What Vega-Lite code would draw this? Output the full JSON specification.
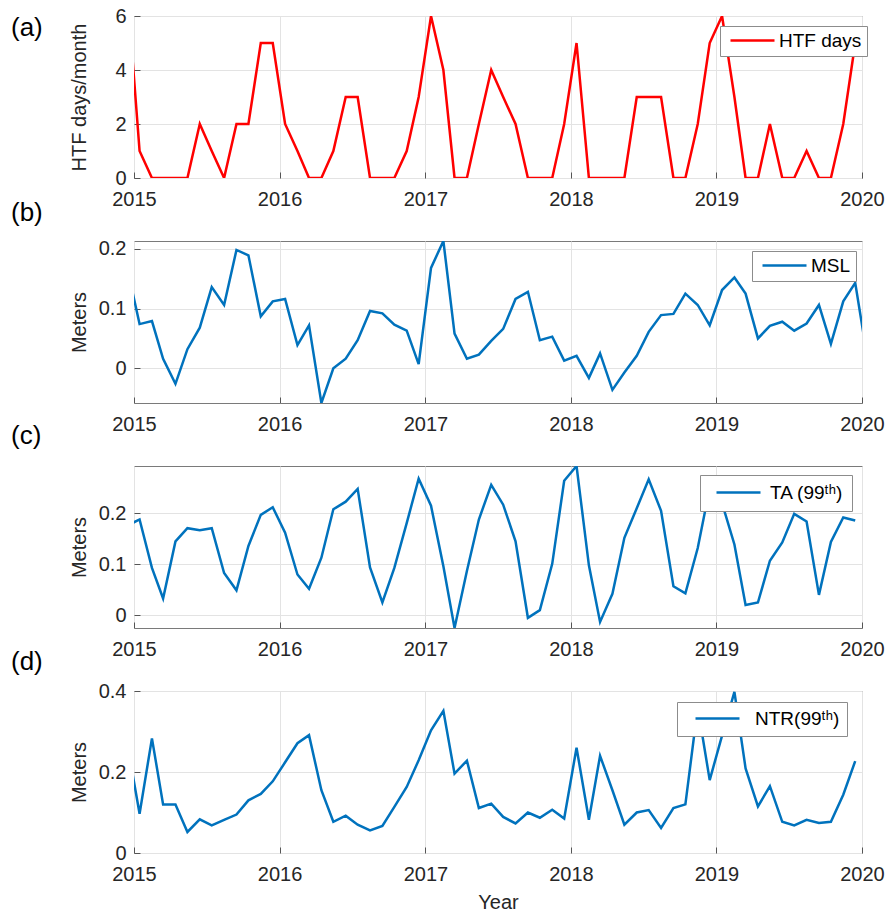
{
  "$schema": "https://vega.github.io/schema/vega-lite/v6.json",
  "background": "white",
  "padding": {"left": 10, "top": 5, "right": 5, "bottom": 5},
  "autosize": {"type": "pad"},
  "datasets": {
    "d": [
      {"date": "2014-12-15", "htf": 7, "msl": 0.168, "ta": 0.176, "ntr": 0.271},
      {"date": "2015-01-15", "htf": 1, "msl": 0.074, "ta": 0.188, "ntr": 0.097},
      {"date": "2015-02-15", "htf": 0, "msl": 0.079, "ta": 0.093, "ntr": 0.283},
      {"date": "2015-03-15", "htf": 0, "msl": 0.016, "ta": 0.033, "ntr": 0.120},
      {"date": "2015-04-15", "htf": 0, "msl": -0.026, "ta": 0.145, "ntr": 0.120},
      {"date": "2015-05-15", "htf": 0, "msl": 0.032, "ta": 0.171, "ntr": 0.052},
      {"date": "2015-06-15", "htf": 2, "msl": 0.068, "ta": 0.167, "ntr": 0.083},
      {"date": "2015-07-15", "htf": 1, "msl": 0.136, "ta": 0.171, "ntr": 0.068},
      {"date": "2015-08-15", "htf": 0, "msl": 0.106, "ta": 0.083, "ntr": 0.082},
      {"date": "2015-09-15", "htf": 2, "msl": 0.198, "ta": 0.049, "ntr": 0.095},
      {"date": "2015-10-15", "htf": 2, "msl": 0.189, "ta": 0.136, "ntr": 0.130},
      {"date": "2015-11-15", "htf": 5, "msl": 0.087, "ta": 0.197, "ntr": 0.146},
      {"date": "2015-12-15", "htf": 5, "msl": 0.112, "ta": 0.212, "ntr": 0.177},
      {"date": "2016-01-15", "htf": 2, "msl": 0.116, "ta": 0.162, "ntr": 0.224},
      {"date": "2016-02-15", "htf": 1, "msl": 0.039, "ta": 0.080, "ntr": 0.271},
      {"date": "2016-03-15", "htf": 0, "msl": 0.072, "ta": 0.052, "ntr": 0.291},
      {"date": "2016-04-15", "htf": 0, "msl": -0.058, "ta": 0.113, "ntr": 0.155},
      {"date": "2016-05-15", "htf": 1, "msl": 0.000, "ta": 0.208, "ntr": 0.077},
      {"date": "2016-06-15", "htf": 3, "msl": 0.016, "ta": 0.223, "ntr": 0.092},
      {"date": "2016-07-15", "htf": 3, "msl": 0.047, "ta": 0.248, "ntr": 0.070},
      {"date": "2016-08-15", "htf": 0, "msl": 0.096, "ta": 0.094, "ntr": 0.056},
      {"date": "2016-09-15", "htf": 0, "msl": 0.092, "ta": 0.025, "ntr": 0.067},
      {"date": "2016-10-15", "htf": 0, "msl": 0.073, "ta": 0.093, "ntr": 0.114},
      {"date": "2016-11-15", "htf": 1, "msl": 0.063, "ta": 0.181, "ntr": 0.163},
      {"date": "2016-12-15", "htf": 3, "msl": 0.007, "ta": 0.268, "ntr": 0.229},
      {"date": "2017-01-15", "htf": 6, "msl": 0.168, "ta": 0.215, "ntr": 0.303},
      {"date": "2017-02-15", "htf": 4, "msl": 0.213, "ta": 0.096, "ntr": 0.351},
      {"date": "2017-03-15", "htf": 0, "msl": 0.058, "ta": -0.025, "ntr": 0.196},
      {"date": "2017-04-15", "htf": 0, "msl": 0.016, "ta": 0.087, "ntr": 0.228},
      {"date": "2017-05-15", "htf": 2, "msl": 0.023, "ta": 0.188, "ntr": 0.111},
      {"date": "2017-06-15", "htf": 4, "msl": 0.046, "ta": 0.256, "ntr": 0.122},
      {"date": "2017-07-15", "htf": 3, "msl": 0.066, "ta": 0.217, "ntr": 0.089},
      {"date": "2017-08-15", "htf": 2, "msl": 0.116, "ta": 0.145, "ntr": 0.073},
      {"date": "2017-09-15", "htf": 0, "msl": 0.128, "ta": -0.005, "ntr": 0.100},
      {"date": "2017-10-15", "htf": 0, "msl": 0.047, "ta": 0.010, "ntr": 0.087},
      {"date": "2017-11-15", "htf": 0, "msl": 0.053, "ta": 0.101, "ntr": 0.107},
      {"date": "2017-12-15", "htf": 2, "msl": 0.013, "ta": 0.264, "ntr": 0.085},
      {"date": "2018-01-15", "htf": 5, "msl": 0.021, "ta": 0.293, "ntr": 0.260},
      {"date": "2018-02-15", "htf": 0, "msl": -0.016, "ta": 0.098, "ntr": 0.082},
      {"date": "2018-03-15", "htf": 0, "msl": 0.025, "ta": -0.013, "ntr": 0.240},
      {"date": "2018-04-15", "htf": 0, "msl": -0.036, "ta": 0.042, "ntr": 0.155},
      {"date": "2018-05-15", "htf": 0, "msl": -0.007, "ta": 0.152, "ntr": 0.070},
      {"date": "2018-06-15", "htf": 3, "msl": 0.021, "ta": 0.210, "ntr": 0.100},
      {"date": "2018-07-15", "htf": 3, "msl": 0.061, "ta": 0.267, "ntr": 0.106},
      {"date": "2018-08-15", "htf": 3, "msl": 0.089, "ta": 0.205, "ntr": 0.062},
      {"date": "2018-09-15", "htf": 0, "msl": 0.091, "ta": 0.057, "ntr": 0.111},
      {"date": "2018-10-15", "htf": 0, "msl": 0.125, "ta": 0.043, "ntr": 0.120},
      {"date": "2018-11-15", "htf": 2, "msl": 0.106, "ta": 0.132, "ntr": 0.360},
      {"date": "2018-12-15", "htf": 5, "msl": 0.072, "ta": 0.250, "ntr": 0.180},
      {"date": "2019-01-15", "htf": 6, "msl": 0.131, "ta": 0.220, "ntr": 0.290},
      {"date": "2019-02-15", "htf": 3, "msl": 0.152, "ta": 0.139, "ntr": 0.398},
      {"date": "2019-03-15", "htf": 0, "msl": 0.125, "ta": 0.020, "ntr": 0.209},
      {"date": "2019-04-15", "htf": 0, "msl": 0.050, "ta": 0.025, "ntr": 0.115},
      {"date": "2019-05-15", "htf": 2, "msl": 0.071, "ta": 0.107, "ntr": 0.165},
      {"date": "2019-06-15", "htf": 0, "msl": 0.078, "ta": 0.143, "ntr": 0.077},
      {"date": "2019-07-15", "htf": 0, "msl": 0.063, "ta": 0.199, "ntr": 0.068},
      {"date": "2019-08-15", "htf": 1, "msl": 0.075, "ta": 0.184, "ntr": 0.082},
      {"date": "2019-09-15", "htf": 0, "msl": 0.106, "ta": 0.040, "ntr": 0.074},
      {"date": "2019-10-15", "htf": 0, "msl": 0.041, "ta": 0.144, "ntr": 0.077},
      {"date": "2019-11-15", "htf": 2, "msl": 0.112, "ta": 0.192, "ntr": 0.144},
      {"date": "2019-12-15", "htf": 5, "msl": 0.143, "ta": 0.186, "ntr": 0.227},
      {"date": "2020-01-15", "msl": 0.015}
    ]
  },
  "data": {"name": "d"},
  "bounds": "flush",
  "spacing": 63,
  "resolve": {
    "scale": {"x": "independent", "y": "independent", "color": "independent"},
    "axis": {"x": "independent", "y": "independent"},
    "legend": {"color": "independent"}
  },
  "vconcat": [
    {
      "width": 728, "height": 162,
      "title": {"text": "(a)", "anchor": "start", "frame": "group", "orient": "top", "dx": -123, "dy": 35, "offset": 0, "fontSize": 26, "fontWeight": "normal", "color": "#000000"},
      "mark": {"type": "line", "clip": true, "strokeWidth": 2.5},
      "encoding": {
        "x": {"field": "date", "type": "temporal",
          "scale": {"type": "utc", "domain": [{"year": 2015, "month": 1, "date": 1, "utc": true}, {"year": 2020, "month": 1, "date": 1, "utc": true}]},
          "axis": {"title": null, "format": "%Y", "formatType": "utc",
            "values": [{"year": 2015, "month": 1, "date": 1, "utc": true}, {"year": 2016, "month": 1, "date": 1, "utc": true}, {"year": 2017, "month": 1, "date": 1, "utc": true}, {"year": 2018, "month": 1, "date": 1, "utc": true}, {"year": 2019, "month": 1, "date": 1, "utc": true}, {"year": 2020, "month": 1, "date": 1, "utc": true}]}},
        "y": {"field": "htf", "type": "quantitative", "scale": {"domain": [0, 6], "nice": false, "zero": false},
          "axis": {"values": [0, 2, 4, 6], "title": "HTF days/month", "titleX": -45, "titleY": 81}},
        "color": {"datum": "HTF days", "type": "nominal", "scale": {"range": ["#ff0000"]},
          "legend": {"orient": "none", "legendX": 586, "legendY": 10, "padding": 5, "symbolOffset": 1, "labelOffset": 34}}
      }
    },
    {
      "width": 728, "height": 162,
      "title": {"text": "(b)", "anchor": "start", "frame": "group", "orient": "top", "dx": -123, "dy": -13, "offset": 0, "fontSize": 26, "fontWeight": "normal", "color": "#000000"},
      "mark": {"type": "line", "clip": true, "strokeWidth": 2.5},
      "encoding": {
        "x": {"field": "date", "type": "temporal",
          "scale": {"type": "utc", "domain": [{"year": 2015, "month": 1, "date": 1, "utc": true}, {"year": 2020, "month": 1, "date": 1, "utc": true}]},
          "axis": {"title": null, "format": "%Y", "formatType": "utc",
            "values": [{"year": 2015, "month": 1, "date": 1, "utc": true}, {"year": 2016, "month": 1, "date": 1, "utc": true}, {"year": 2017, "month": 1, "date": 1, "utc": true}, {"year": 2018, "month": 1, "date": 1, "utc": true}, {"year": 2019, "month": 1, "date": 1, "utc": true}, {"year": 2020, "month": 1, "date": 1, "utc": true}]}},
        "y": {"field": "msl", "type": "quantitative", "scale": {"domain": [-0.058, 0.213], "nice": false, "zero": false},
          "axis": {"values": [0, 0.1, 0.2], "format": "~g", "title": "Meters", "titleX": -45, "titleY": 81}},
        "color": {"datum": "MSL", "type": "nominal", "scale": {"range": ["#0072bd"]},
          "legend": {"orient": "none", "legendX": 618, "legendY": 10, "padding": 5, "symbolOffset": 1, "labelOffset": 34}}
      }
    },
    {
      "width": 728, "height": 162,
      "title": {"text": "(c)", "anchor": "start", "frame": "group", "orient": "top", "dx": -123, "dy": -17, "offset": 0, "fontSize": 26, "fontWeight": "normal", "color": "#000000"},
      "mark": {"type": "line", "clip": true, "strokeWidth": 2.5},
      "encoding": {
        "x": {"field": "date", "type": "temporal",
          "scale": {"type": "utc", "domain": [{"year": 2015, "month": 1, "date": 1, "utc": true}, {"year": 2020, "month": 1, "date": 1, "utc": true}]},
          "axis": {"title": null, "format": "%Y", "formatType": "utc",
            "values": [{"year": 2015, "month": 1, "date": 1, "utc": true}, {"year": 2016, "month": 1, "date": 1, "utc": true}, {"year": 2017, "month": 1, "date": 1, "utc": true}, {"year": 2018, "month": 1, "date": 1, "utc": true}, {"year": 2019, "month": 1, "date": 1, "utc": true}, {"year": 2020, "month": 1, "date": 1, "utc": true}]}},
        "y": {"field": "ta", "type": "quantitative", "scale": {"domain": [-0.025, 0.293], "nice": false, "zero": false},
          "axis": {"values": [0, 0.1, 0.2], "format": "~g", "title": "Meters", "titleX": -45, "titleY": 81}},
        "color": {"datum": "TA (99ᵗʰ)", "type": "nominal", "scale": {"range": ["#0072bd"]},
          "legend": {"orient": "none", "legendX": 566, "legendY": 9, "padding": 8, "symbolOffset": 4, "labelOffset": 39}}
      }
    },
    {
      "width": 728, "height": 162,
      "title": {"text": "(d)", "anchor": "start", "frame": "group", "orient": "top", "dx": -123, "dy": -6, "offset": 0, "fontSize": 26, "fontWeight": "normal", "color": "#000000"},
      "mark": {"type": "line", "clip": true, "strokeWidth": 2.5},
      "encoding": {
        "x": {"field": "date", "type": "temporal",
          "scale": {"type": "utc", "domain": [{"year": 2015, "month": 1, "date": 1, "utc": true}, {"year": 2020, "month": 1, "date": 1, "utc": true}]},
          "axis": {"title": "Year", "titlePadding": 8, "format": "%Y", "formatType": "utc",
            "values": [{"year": 2015, "month": 1, "date": 1, "utc": true}, {"year": 2016, "month": 1, "date": 1, "utc": true}, {"year": 2017, "month": 1, "date": 1, "utc": true}, {"year": 2018, "month": 1, "date": 1, "utc": true}, {"year": 2019, "month": 1, "date": 1, "utc": true}, {"year": 2020, "month": 1, "date": 1, "utc": true}]}},
        "y": {"field": "ntr", "type": "quantitative", "scale": {"domain": [0, 0.4], "nice": false, "zero": false},
          "axis": {"values": [0, 0.2, 0.4], "format": "~g", "title": "Meters", "titleX": -45, "titleY": 81}},
        "color": {"datum": "NTR(99ᵗʰ)", "type": "nominal", "scale": {"range": ["#0072bd"]},
          "legend": {"orient": "none", "legendX": 543, "legendY": 11, "padding": 7, "symbolOffset": 7, "labelOffset": 45}}
      }
    }
  ],
  "config": {
    "font": "Liberation Sans",
    "view": {"stroke": "#7a7a7a", "strokeWidth": 1},
    "axis": {
      "domain": false,
      "grid": true,
      "gridColor": "#e3e3e3",
      "gridWidth": 1,
      "ticks": true,
      "tickColor": "#555555",
      "tickSize": -6,
      "labelFont": "Liberation Sans",
      "labelFontSize": 20,
      "labelColor": "#262626",
      "titleFont": "Liberation Sans",
      "titleFontSize": 20,
      "titleFontWeight": "normal",
      "titleColor": "#262626"
    },
    "axisX": {"labelPadding": 17, "labelFlush": false},
    "axisY": {"labelPadding": 14},
    "legend": {
      "title": null,
      "symbolType": "M-1,0H7.8",
      "symbolSize": 100,
      "symbolStrokeWidth": 2.5,
      "labelFont": "Liberation Sans",
      "labelFontSize": 19,
      "labelColor": "#000000",
      "strokeColor": "#8c8c8c",
      "fillColor": "#ffffff",
      "cornerRadius": 0
    }
  }
}
